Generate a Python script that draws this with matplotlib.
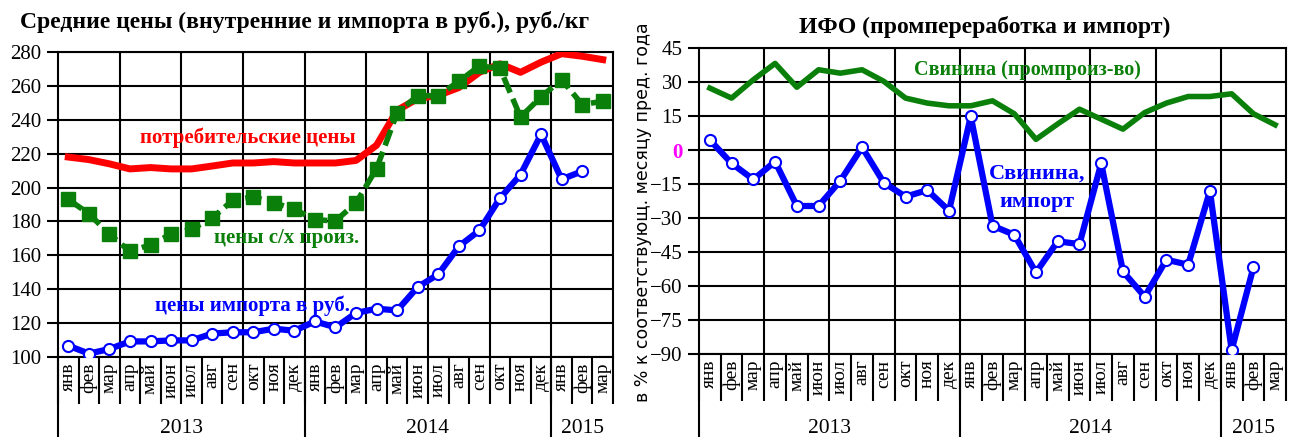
import matplotlib
matplotlib.use("Agg")
import matplotlib.pyplot as plt
import matplotlib.transforms as mtransforms

# ---------------- data ----------------
months = ["янв", "фев", "мар", "апр", "май", "июн", "июл", "авг", "сен", "окт", "ноя", "дек",
          "янв", "фев", "мар", "апр", "май", "июн", "июл", "авг", "сен", "окт", "ноя", "дек",
          "янв", "фев", "мар"]
years = ["2013", "2014", "2015"]
year_counts = [12, 12, 3]

consumer = [218, 216.5, 214, 211, 211.8, 211, 211, 212.7, 214.5, 214.5, 215.3, 214.5,
            214.5, 214.5, 216, 225, 245.6, 252.5, 254.4, 259, 268, 273, 268, 274,
            279, 277.5, 275.5]
producer = [193, 184.6, 172.5, 162.3, 166.2, 172.5, 175.5, 182, 192.5, 194.5, 191, 187.2,
            181, 180.3, 191, 211.2, 244.2, 254.2, 254.2, 262.7, 271.7, 270.4, 241.6, 253.5,
            263.7, 249, 250.9]
import_rub = [106.7, 102, 104.7, 109.2, 109.2, 109.8, 109.8, 113.8, 114.6, 114.6, 116.7, 115.5,
              121, 117.5, 126, 128.5, 127.5, 141.3, 148.8, 165.3, 174.7, 193.7, 207.6, 231.4,
              204.9, 209.6, None]

pork_prod = [27.3, 22.9, 31, 38.2, 27.7, 35.4, 33.9, 35.4, 30.3, 22.9, 20.7, 19.5,
             19.5, 21.7, 16, 4.7, 11.5, 18, 13.6, 9.2, 16.5, 20.7, 23.6, 23.6,
             24.8, 16, 11.1]
pork_import = [4.4, -5.9, -13, -5.1, -24.7, -24.7, -13.6, 1.2, -14.4, -20.6, -17.7, -26.8,
               14.8, -33.4, -37.4, -54, -40.3, -41.5, -5.9, -53.6, -64.7, -48.4, -50.6, -18.1,
               -88.3, -51.8, None]

left_yticks = [100, 120, 140, 160, 180, 200, 220, 240, 260, 280]
right_yticks = [-90, -75, -60, -45, -30, -15, 0, 15, 30, 45]

# ---------------- style ----------------
SERIF = ["Liberation Serif", "DejaVu Serif"]
RED = "#ff0000"
GREEN = "#0a800a"
BLUE = "#0000ff"
W, H = 1291, 437

fig = plt.figure(figsize=(W / 100, H / 100), dpi=100)


def px_axes(x0, x1, ytop, ybot):
    return fig.add_axes([x0 / W, (H - ybot) / H, (x1 - x0) / W, (ybot - ytop) / H])


def setup_axis(ax, yticks, month_bot, year_bot):
    n = len(months)
    ax.set_xlim(-0.5, n - 0.5)
    ax.set_ylim(yticks[0], yticks[-1])
    ax.set_yticks(yticks)
    ax.set_xticks([i - 0.5 for i in range(3, n, 3)])
    ax.set_xticklabels([])
    ax.tick_params(axis="x", length=0)
    ax.tick_params(axis="y", length=8, width=1.5, direction="out", pad=4, labelsize=15)
    for lab in ax.get_yticklabels():
        lab.set_fontfamily(SERIF)
    ax.grid(True, color="black", linewidth=1.5)
    ax.set_axisbelow(True)
    for sp in ax.spines.values():
        sp.set_linewidth(1.5)
        sp.set_color("black")
    trans = mtransforms.blended_transform_factory(ax.transData, ax.transAxes)
    # month separators
    for k in range(0, n + 1):
        ax.plot([k - 0.5, k - 0.5], [0, month_bot], transform=trans, color="black",
                linewidth=1.5, clip_on=False, solid_capstyle="butt")
    for i, m in enumerate(months):
        ax.text(i, -0.018, m, transform=trans, rotation=90, ha="center", va="top",
                fontsize=14, family=SERIF)
    # year separators and labels
    start = 0
    bounds = [0]
    for c in year_counts:
        start += c
        bounds.append(start)
    for b in bounds[:-1]:
        ax.plot([b - 0.5, b - 0.5], [0, year_bot], transform=trans, color="black",
                linewidth=1.5, clip_on=False, solid_capstyle="butt")
    for y, a, b in zip(years, bounds[:-1], bounds[1:]):
        ax.text((a + b - 1) / 2, year_bot + 0.028, y, transform=trans, ha="center",
                va="center", fontsize=15.5, family=SERIF)


x = list(range(len(months)))

# ---------------- left chart ----------------
axL = px_axes(58, 613, 52, 357)
setup_axis(axL, left_yticks, (357 - 404) / 305, (357 - 437) / 305)
axL.plot(x, consumer, color=RED, linewidth=5, solid_joinstyle="round", zorder=3)
axL.plot(x, producer, color=GREEN, linewidth=4, linestyle=(0, (3, 1.2)), marker="s",
         markersize=9.5, markerfacecolor=GREEN, markeredgecolor=GREEN, zorder=4)
xi = [i for i, v in zip(x, import_rub) if v is not None]
vi = [v for v in import_rub if v is not None]
axL.plot(xi, vi, color=BLUE, linewidth=4.5, marker="o", markersize=8,
         markerfacecolor="white", markeredgecolor=BLUE, markeredgewidth=1.5, zorder=5)
axL.text(3.5, 229.5, "потребительские цены", color=RED, fontsize=15, fontweight="bold",
         family=SERIF, va="center", ha="left")
axL.text(7.1, 170, "цены с/х произ.", color=GREEN, fontsize=15, fontweight="bold",
         family=SERIF, va="center", ha="left")
axL.text(4.2, 130, "цены импорта в руб.", color=BLUE, fontsize=15, fontweight="bold",
         family=SERIF, va="center", ha="left")
fig.text(305 / W, (H - 22) / H, "Средние цены (внутренние и импорта в руб.), руб./кг",
         ha="center", va="center", fontsize=17, fontweight="bold", family=SERIF)

# ---------------- right chart ----------------
axR = px_axes(699, 1286, 48, 354)
setup_axis(axR, right_yticks, (354 - 401) / 306, (354 - 437) / 306)
axR.plot(x, pork_prod, color=GREEN, linewidth=4, zorder=3)
xi = [i for i, v in zip(x, pork_import) if v is not None]
vi = [v for v in pork_import if v is not None]
axR.plot(xi, vi, color=BLUE, linewidth=4.5, marker="o", markersize=8,
         markerfacecolor="white", markeredgecolor=BLUE, markeredgewidth=1.5, zorder=5)
axR.text(14.6, 35.5, "Свинина (промпроиз-во)", color=GREEN, fontsize=14.5, fontweight="bold",
         family=SERIF, va="center", ha="center")
axR.text(15.05, -10.5, "Свинина,", color=BLUE, fontsize=16, fontweight="bold",
         family=SERIF, va="center", ha="center")
axR.text(15.05, -23, "импорт", color=BLUE, fontsize=16, fontweight="bold",
         family=SERIF, va="center", ha="center")
for lab in axR.get_yticklabels():
    if lab.get_text() == "0":
        lab.set_color("#ff00ff")
        lab.set_fontweight("bold")
fig.text(985 / W, (H - 27) / H, "ИФО (промпереработка и импорт)",
         ha="center", va="center", fontsize=17, fontweight="bold", family=SERIF)
fig.text(643 / W, (H - 212) / H, "в % к соответствующ. месяцу пред. года", rotation=90,
         ha="center", va="center", fontsize=12.5, family="DejaVu Sans")

fig.savefig("out.png", dpi=100)
